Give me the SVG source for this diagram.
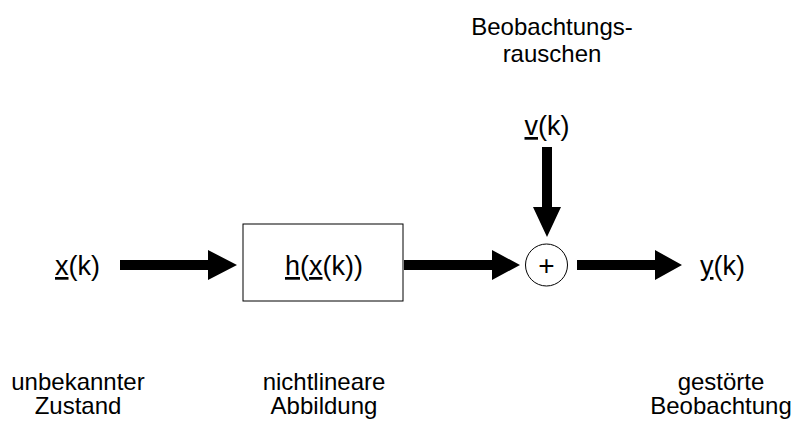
<svg xmlns="http://www.w3.org/2000/svg" width="794" height="421" viewBox="0 0 794 421">
<style>
text{font-family:"Liberation Sans",Arial,sans-serif;fill:#000}
.sym{font-size:27px}
.lbl{font-size:24px;text-anchor:middle}
.u{text-decoration:underline}
.arr{fill:#000;stroke:none}
</style>
<rect width="794" height="421" fill="#fff"/>
<g id="connectors">
<path class="arr" d="M120,260H208V250L237,265L208,280V270H120Z"/>
<path class="arr" d="M404,260H492V250L520,265L492,280V270H404Z"/>
<path class="arr" d="M577,260H655V250L682,265L655,280V270H577Z"/>
<path class="arr" d="M542,147V207H533L547,237L561,207H552V147Z"/>
</g>
<g id="input">
<text class="sym" x="55" y="275"><tspan class="u">x</tspan>(k)</text>
<text class="lbl" x="78" y="390">unbekannter<tspan x="78" dy="24">Zustand</tspan></text>
</g>
<g id="h-block">
<rect x="243" y="224" width="160" height="77" fill="#fff" stroke="#000" stroke-width="1"/>
<text class="sym" x="324" y="275" text-anchor="middle"><tspan class="u">h</tspan>(<tspan class="u">x</tspan>(k))</text>
<text class="lbl" x="324" y="390">nichtlineare<tspan x="324" dy="24">Abbildung</tspan></text>
</g>
<g id="noise">
<text class="sym" x="547" y="135" text-anchor="middle"><tspan class="u">v</tspan>(k)</text>
<text class="lbl" x="552" y="35">Beobachtungs-<tspan x="552" dy="27">rauschen</tspan></text>
</g>
<g id="sum">
<circle cx="546.5" cy="265" r="21" fill="#fff" stroke="#000" stroke-width="1"/>
<text x="546.5" y="274.5" font-size="28" text-anchor="middle">+</text>
</g>
<g id="output">
<text class="sym" x="700" y="275"><tspan class="u">y</tspan>(k)</text>
<text class="lbl" x="721" y="390">gestörte<tspan x="721" dy="24">Beobachtung</tspan></text>
</g>
</svg>
